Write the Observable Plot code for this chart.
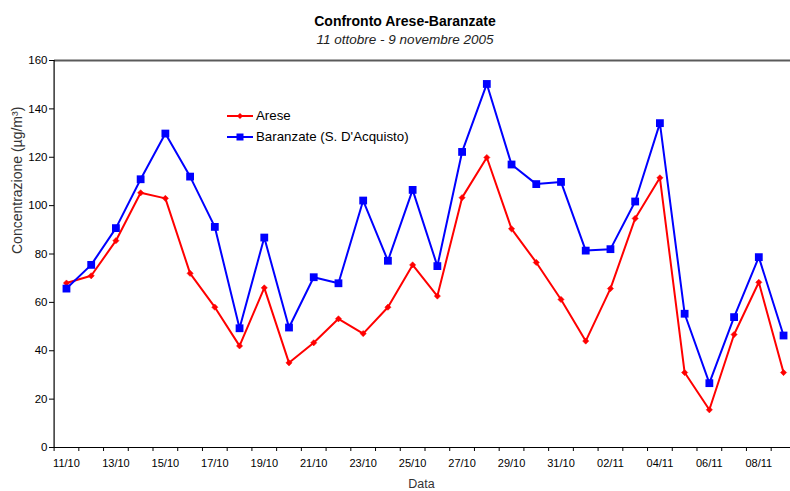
<!DOCTYPE html>
<html>
<head>
<meta charset="utf-8">
<script src="https://cdn.jsdelivr.net/npm/d3@7"></script>
<script src="https://cdn.jsdelivr.net/npm/@observablehq/plot@0.6"></script>
<style>
  html, body { margin: 0; padding: 0; background: #fff; }
  #wrap { position: relative; width: 790px; height: 491px; overflow: hidden; font-family: "Liberation Sans", Arial, sans-serif; }
  #wrap svg.plot { position: absolute; left: 0; top: 0; }
  .title { position: absolute; left: 285px; width: 240px; text-align: center; color: #000; white-space: nowrap; line-height: 16px; }
  #t1 { top: 13px; font-size: 14px; font-weight: bold; }
  #t2 { top: 32px; font-size: 13.5px; font-style: italic; color: #222; }
  #legend { position: absolute; left: 227px; top: 105px; font-size: 13.3px; color: #000; }
  #legend .row { display: flex; align-items: center; height: 21px; }
  #legend svg { margin-right: 3px; }
</style>
</head>
<body>
<div id="wrap">
  <div class="title" id="t1">Confronto Arese-Baranzate</div>
  <div class="title" id="t2">11 ottobre - 9 novembre 2005</div>
  <div id="legend"></div>
</div>
<script>
const days = ["11/10","12/10","13/10","14/10","15/10","16/10","17/10","18/10","19/10","20/10",
  "21/10","22/10","23/10","24/10","25/10","26/10","27/10","28/10","29/10","30/10",
  "31/10","01/11","02/11","03/11","04/11","05/11","06/11","07/11","08/11","09/11"];
const arese = [68, 71, 85.5, 105.3, 103, 72, 58, 42, 66, 35,
  43.3, 53.2, 47.1, 58, 75.5, 62.6, 103.3, 119.9, 90.4, 76.5,
  61.2, 44, 65.7, 94.7, 111.5, 31, 15.6, 46.7, 68.3, 31];
const baranzate = [65.7, 75.5, 90.7, 110.9, 129.8, 112, 91.2, 49.3, 86.8, 49.6,
  70.4, 67.9, 102.1, 77.2, 106.5, 75, 122.2, 150.3, 117, 108.9,
  109.8, 81.4, 82, 101.7, 134.1, 55.3, 26.6, 53.9, 78.7, 46.3];
const seriesNames = ["Arese", "Baranzate (S. D'Acquisto)"];
const seriesColors = ["#ff0000", "#0000ff"];
const yTicks = [0, 20, 40, 60, 80, 100, 120, 140, 160];
const yLabel = "Concentrazione (µg/m³)";
const xLabel = "Data";

const rows = [];
days.forEach((d, i) => {
  rows.push({i, day: d, series: seriesNames[0], value: arese[i]});
});
days.forEach((d, i) => {
  rows.push({i, day: d, series: seriesNames[1], value: baranzate[i]});
});
const aRows = rows.filter(r => r.series === seriesNames[0]);
const bRows = rows.filter(r => r.series === seriesNames[1]);

const n = days.length;
const boundaries = d3.range(-0.5, n + 0.5, 1);
const labelIdx = d3.range(0, n, 2);

const chart = Plot.plot({
  width: 790,
  height: 491,
  marginTop: 60,
  marginBottom: 44,
  marginLeft: 54,
  marginRight: 0,
  style: {fontFamily: "'Liberation Sans', Arial, sans-serif", fontSize: "11px", color: "#000", background: "transparent"},
  x: {type: "linear", domain: [-0.5, n - 0.5], range: [53.6, 795.4]},
  y: {domain: [0, 160]},
  marks: [
    Plot.ruleY([160], {stroke: "#5a5a5a", strokeWidth: 2}),
    Plot.axisY({ticks: yTicks, tickSize: 5, tickPadding: 2, label: null, fontSize: 11.5}),
    Plot.axisX({ticks: boundaries, tickSize: 4, tickFormat: () => "", label: null}),
    Plot.axisX({ticks: labelIdx, tickSize: 0, tickPadding: 12, tickFormat: i => days[i], label: null, fontSize: 11}),
    Plot.ruleY([0], {stroke: "#000", strokeWidth: 1.2}),
    Plot.ruleX([-0.5], {stroke: "#000", strokeWidth: 1.2}),
    Plot.line(aRows, {x: "i", y: "value", stroke: seriesColors[0], strokeWidth: 2}),
    Plot.line(bRows, {x: "i", y: "value", stroke: seriesColors[1], strokeWidth: 2}),
    Plot.dot(aRows, {x: "i", y: "value", symbol: "diamond2", r: 2.8, fill: seriesColors[0], stroke: seriesColors[0], strokeWidth: 0.5}),
    Plot.dot(bRows, {x: "i", y: "value", symbol: "square", r: 4.4, fill: seriesColors[1]}),
    Plot.text([yLabel], {frameAnchor: "left", dx: -37, rotate: -90, fontSize: 14, fill: "#333"}),
    Plot.text([xLabel], {frameAnchor: "bottom", dx: -1, dy: 40, fontSize: 12.5, fill: "#333"})
  ]
});
chart.classList.add("plot");
document.getElementById("wrap").prepend(chart);

// legend
const legend = document.getElementById("legend");
seriesNames.forEach((name, k) => {
  const row = document.createElement("div");
  row.className = "row";
  const sym = k === 0
    ? `<path d="M13,3 L16,6 L13,9 L10,6 Z" fill="${seriesColors[k]}"/>`
    : `<rect x="9.5" y="2.5" width="7" height="7" fill="${seriesColors[k]}"/>`;
  row.innerHTML = `<svg width="26" height="12"><line x1="0" x2="26" y1="6" y2="6" stroke="${seriesColors[k]}" stroke-width="2"/>${sym}</svg><span>${name}</span>`;
  legend.appendChild(row);
});
</script>
</body>
</html>
